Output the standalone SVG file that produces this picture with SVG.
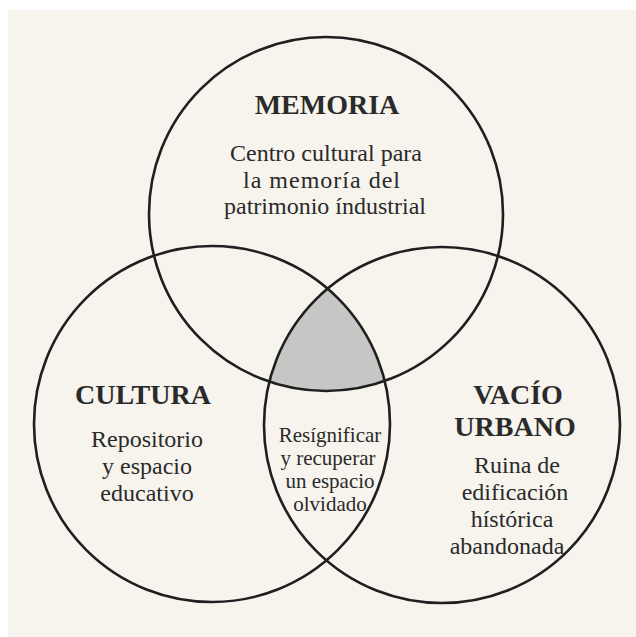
<svg xmlns="http://www.w3.org/2000/svg" width="636" height="637" viewBox="0 0 636 637">
<style>
.ring{fill:none;stroke:#1f1f1f;stroke-width:2.6}
.h{font-family:"Liberation Serif","Times New Roman",serif;font-weight:bold;font-size:28px;fill:#2a2a2a;text-anchor:middle}
.t{font-family:"Liberation Serif","Times New Roman",serif;font-size:24px;fill:#2a2a2a;text-anchor:middle}
.s{font-family:"Liberation Serif","Times New Roman",serif;font-size:21px;fill:#2a2a2a;text-anchor:middle}
</style>
<defs>
<clipPath id="cl"><circle cx="212" cy="424" r="178"/></clipPath>
<clipPath id="cr"><circle cx="442" cy="425" r="178"/></clipPath>
</defs>
<rect x="0" y="0" width="636" height="637" fill="#ffffff"/>
<rect x="8" y="10" width="628" height="627" fill="#f7f4ee"/>
<g clip-path="url(#cl)"><g clip-path="url(#cr)"><circle cx="326" cy="214" r="177" fill="#c6c6c4"/></g></g>
<g id="connectors"></g>
<g id="memoria">
<circle class="ring" cx="326" cy="214" r="177"/>
<text class="h" x="327" y="114">MEMORIA</text>
<text class="t" x="326" y="161">Centro cultural para</text>
<text class="t" x="322" y="188" letter-spacing="1">la memoría del</text>
<text class="t" x="325" y="214">patrimonio índustrial</text>
</g>
<g id="cultura">
<circle class="ring" cx="212" cy="424" r="178"/>
<text class="h" x="143" y="404">CULTURA</text>
<text class="t" x="147" y="447">Repositorio</text>
<text class="t" x="147" y="474">y espacio</text>
<text class="t" x="147" y="501">educativo</text>
</g>
<g id="vacio">
<circle class="ring" cx="442" cy="425" r="178"/>
<text class="h" x="518" y="404">VACÍO</text>
<text class="h" x="515" y="436">URBANO</text>
<text class="t" x="517" y="473">Ruina de</text>
<text class="t" x="515" y="500">edificación</text>
<text class="t" x="512" y="527">hístórica</text>
<text class="t" x="507" y="554">abandonada</text>
</g>
<g id="centro">
<text class="s" x="330" y="442">Resígnificar</text>
<text class="s" x="328" y="465">y recuperar</text>
<text class="s" x="330" y="488">un espacio</text>
<text class="s" x="330" y="511">olvidado</text>
</g>
</svg>
